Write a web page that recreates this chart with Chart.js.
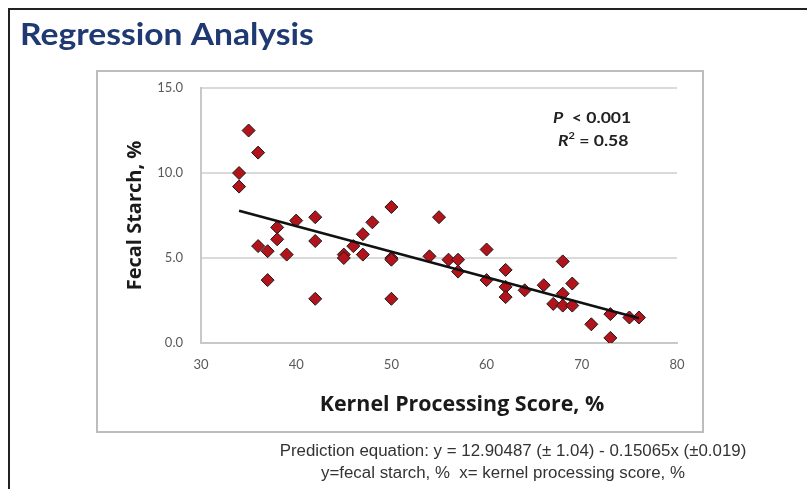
<!DOCTYPE html>
<html>
<head>
<meta charset="utf-8">
<script src="https://cdn.jsdelivr.net/npm/chart.js@4/dist/chart.umd.min.js"></script>
<style>
  html, body { margin: 0; padding: 0; background: #fff; }
  #wrap { width: 807px; height: 489px; position: relative; }
</style>
</head>
<body>
<div id="wrap"><canvas id="chartRegression" width="807" height="489"></canvas></div>
<script>
/* ── Data ── */
const kernelScore = [34, 34, 35, 36, 36, 37, 37, 38, 38, 39, 40, 42, 42, 42, 45, 45, 46, 47, 47, 48,
                     50, 50, 50, 50, 54, 55, 56, 57, 57, 60, 60, 62, 62, 62, 64, 66, 67, 68, 68, 68,
                     69, 69, 71, 73, 73, 75, 76];
const fecalStarch = [10.0, 9.2, 12.5, 11.2, 5.7, 5.4, 3.7, 6.8, 6.1, 5.2, 7.2, 7.4, 6.0, 2.6, 5.2, 5.0, 5.7, 6.4, 5.2, 7.1,
                     8.0, 5.0, 4.9, 2.6, 5.1, 7.4, 4.9, 4.9, 4.2, 5.5, 3.7, 4.3, 3.3, 2.7, 3.1, 3.4, 2.3, 4.8, 2.9, 2.2,
                     3.5, 2.2, 1.1, 1.7, 0.3, 1.5, 1.5];

// published prediction equation and fitted range
const intercept = 12.90487;
const slope = -0.15065;
const fitRange = [34, 76];

const xTicks = [30, 40, 50, 60, 70, 80];
const yTicks = [0, 5, 10, 15];

const xTitle = 'Kernel Processing Score, %';
const yTitle = 'Fecal Starch, %';
const notes = [
  'Prediction equation: y = 12.90487 (\u00b1 1.04) - 0.15065x (\u00b10.019)',
  'y=fecal starch, %  x= kernel processing score, %'
];

// draw text squeezed/stretched horizontally (source figure is a bit wide)
function wideText(c, text, x, y, sx) {
  c.save();
  c.translate(x, y);
  c.scale(sx, 1);
  c.fillText(text, 0, 0);
  const w = c.measureText(text).width * sx;
  c.restore();
  return w;
}

/* ── Decorations: frame, panel box, titles, notes ── */
const decor = {
  id: 'decor',
  beforeDraw(chart) {
    const c = chart.ctx;
    c.save();
    c.fillStyle = '#fff';
    c.fillRect(0, 0, chart.width, chart.height);
    // outer frame (top + left only)
    c.strokeStyle = '#222';
    c.lineWidth = 2;
    c.beginPath();
    c.moveTo(9, 489); c.lineTo(9, 9); c.lineTo(807, 9);
    c.stroke();
    // gray chart box
    c.strokeStyle = '#bdbdbd';
    c.lineWidth = 2;
    c.strokeRect(97, 71, 606, 361);
    // slide title
    c.fillStyle = '#1f3a72';
    c.font = 'bold 30px Lato';
    c.textBaseline = 'alphabetic';
    wideText(c, 'Regression Analysis', 20, 45, 1.12);
    c.restore();
  },
  afterDraw(chart) {
    const c = chart.ctx;
    c.save();
    c.fillStyle = '#222';
    c.textBaseline = 'middle';
    const sx = 1.1;
    // P < 0.001
    let x = 553;
    c.font = 'italic bold 16px Lato';
    x += wideText(c, 'P', x, 118, sx);
    c.font = 'bold 16px Lato';
    wideText(c, '  < 0.001', x, 118, sx);
    // R² = 0.58
    x = 558;
    c.font = 'italic bold 16px Lato';
    x += wideText(c, 'R', x, 141, sx);
    c.font = 'bold 10px Lato';
    x += wideText(c, '2', x, 136, sx);
    c.font = 'bold 16px Lato';
    wideText(c, ' = 0.58', x, 141, sx);
    // x axis title (sits right of the plot centre in the source)
    c.fillStyle = '#1a1a1a';
    c.textAlign = 'center';
    c.font = 'bold 21px "Open Sans"';
    wideText(c, xTitle, 462, 405, 1.02);
    // notes under the box
    c.fillStyle = '#333';
    c.font = '16px "Liberation Sans", Arial, sans-serif';
    wideText(c, notes[0], 513, 452, 1.055);
    wideText(c, notes[1], 503, 474, 1.055);
    c.restore();
  }
};

/* ── Chart ── */
const fitLine = fitRange.map(x => ({ x, y: intercept + slope * x }));

new Chart(document.getElementById('chartRegression'), {
  type: 'scatter',
  data: {
    datasets: [
      {
        type: 'line',
        label: 'Fit',
        data: fitLine,
        borderColor: '#111',
        borderWidth: 2.5,
        pointRadius: 0,
        fill: false,
        order: 0,
      },
      {
        label: 'Fecal starch',
        data: kernelScore.map((x, i) => ({ x, y: fecalStarch[i] })),
        pointStyle: 'rectRot',
        pointRadius: 6.5,
        backgroundColor: '#b3141c',
        borderColor: '#1a1a1a',
        borderWidth: 1,
        order: 1,
      }
    ]
  },
  options: {
    responsive: false,
    animation: false,
    layout: { padding: { left: 110, right: 130, top: 88, bottom: 64 } },
    plugins: { legend: { display: false }, tooltip: { enabled: false } },
    scales: {
      x: {
        type: 'linear',
        min: xTicks[0], max: xTicks[xTicks.length - 1],
        afterBuildTicks: s => { s.ticks = xTicks.map(v => ({ value: v })); },
        afterFit: s => { s.height = 82; },
        grid: { display: false, drawTicks: false },
        border: { display: true, color: '#c8c8c8', width: 2 },
        ticks: { padding: 14, color: '#595959', font: { family: 'Lato', size: 13 } },
        title: { display: false }
      },
      y: {
        type: 'linear',
        min: yTicks[0], max: yTicks[yTicks.length - 1],
        afterBuildTicks: s => { s.ticks = yTicks.map(v => ({ value: v })); },
        afterFit: s => { s.width = 91; },
        grid: { color: '#dadada', lineWidth: 2, drawTicks: false },
        border: { display: true, color: '#c8c8c8', width: 2 },
        ticks: {
          padding: 18, color: '#595959', font: { family: 'Lato', size: 13 },
          callback: v => v.toFixed(1)
        },
        title: {
          display: true, text: yTitle, color: '#1a1a1a',
          font: { family: 'Open Sans', size: 20, weight: 'bold' },
          padding: { top: 13, bottom: 0 }
        }
      }
    }
  },
  plugins: [decor]
});
</script>
</body>
</html>
